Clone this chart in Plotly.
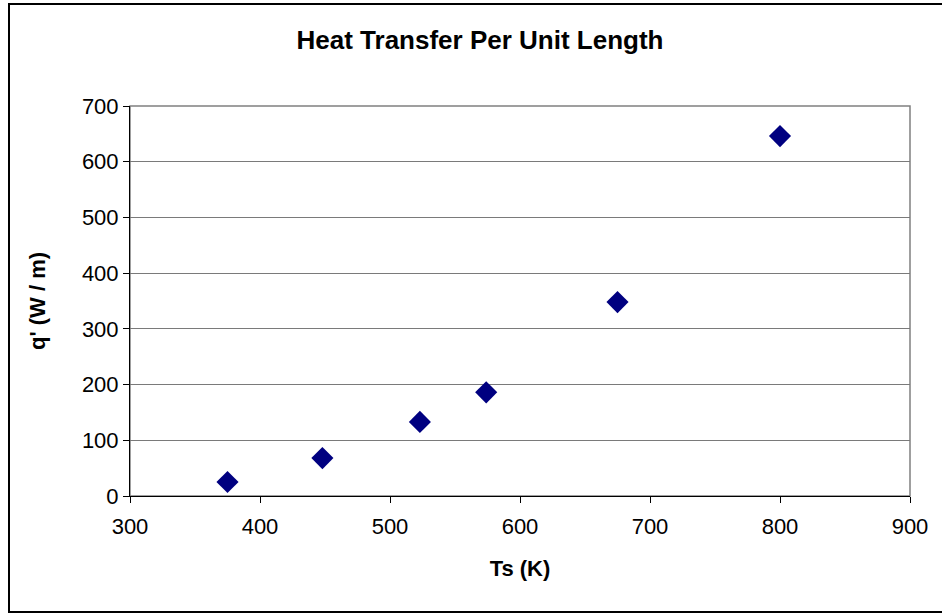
import plotly.graph_objects as go

ts_k = [375, 448, 523, 574, 675, 800]
q_w_per_m = [25, 68, 133, 186, 348, 646]

x_ticks = [300, 400, 500, 600, 700, 800, 900]
y_ticks = [0, 100, 200, 300, 400, 500, 600, 700]

W, H = 942, 613
L, R, T, B = 130, 32, 106, 117
pw, ph = W - L - R, H - T - B

def px_to_paper_x(px):
    return (px - L) / pw

def px_to_paper_y(py):
    return (H - B - py) / ph

fig = go.Figure()
fig.add_trace(go.Scatter(
    x=ts_k, y=q_w_per_m, mode="markers",
    marker=dict(symbol="diamond", size=17, color="#000080",
                line=dict(width=0)),
    showlegend=False, cliponaxis=False,
))

font_family = "Liberation Sans, Arial, sans-serif"

fig.update_layout(
    width=W, height=H,
    margin=dict(l=L, r=R, t=T, b=B),
    paper_bgcolor="white", plot_bgcolor="white",
    font=dict(family=font_family, color="black", size=22),
    title=dict(text="<b>Heat Transfer Per Unit Length</b>",
               x=480 / W, xref="container", xanchor="center",
               y=1 - 40 / H, yanchor="middle",
               font=dict(size=26, family=font_family, color="black")),
    xaxis=dict(range=[300, 900], tickvals=x_ticks,
               ticktext=[str(v) for v in x_ticks],
               showgrid=False, zeroline=False,
               showline=True, linecolor="black", linewidth=1,
               ticks="outside", ticklen=6, tickcolor="black",
               tickfont=dict(size=22), ticklabelstandoff=5,
               title=dict(text="<b>Ts (K)</b>", font=dict(size=22), standoff=22)),
    yaxis=dict(range=[0, 700], tickvals=y_ticks,
               ticktext=[str(v) for v in y_ticks],
               showgrid=True, gridcolor="#7a7a7a", gridwidth=1,
               zeroline=False,
               showline=True, linecolor="black", linewidth=1,
               ticks="outside", ticklen=6, tickcolor="black",
               tickfont=dict(size=22),
               title=dict(text="<b>q' (W / m)</b>", font=dict(size=22), standoff=30)),
    shapes=[
        dict(type="rect", xref="paper", yref="paper", x0=0, x1=1, y0=0, y1=1,
             line=dict(color="#808080", width=1.5), layer="below"),
        dict(type="rect", xref="paper", yref="paper",
             x0=px_to_paper_x(9), x1=px_to_paper_x(948),
             y0=px_to_paper_y(612), y1=px_to_paper_y(4),
             line=dict(color="black", width=2), layer="above"),
    ],
)

fig.write_html("out.html",
               config={"displayModeBar": False},
               post_script="document.body.style.margin='0';document.body.style.padding='0';")
